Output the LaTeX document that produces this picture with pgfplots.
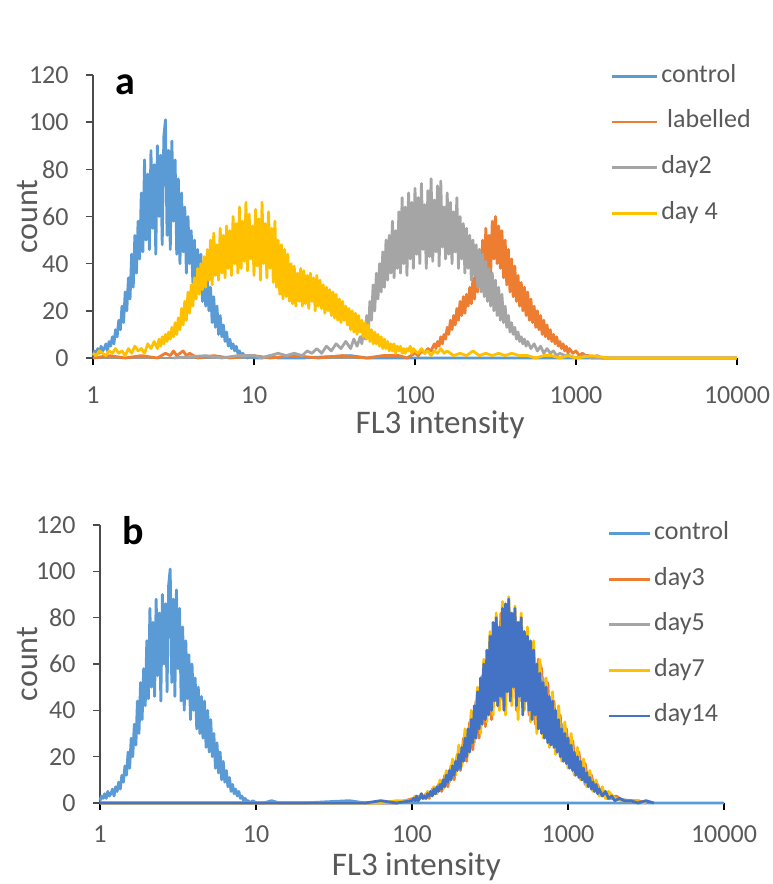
\documentclass[border=0pt]{standalone}
\usepackage{fontspec}
\setmainfont{Carlito}
\usepackage{pgfplots}
\usepackage{pgfplotstable}
\pgfplotsset{compat=1.18}
\definecolor{cBlue}{HTML}{5B9BD5}
\definecolor{cOrange}{HTML}{ED7D31}
\definecolor{cGray}{HTML}{A5A5A5}
\definecolor{cGold}{HTML}{FFC000}
\definecolor{cDark}{HTML}{4472C4}
\definecolor{txt}{HTML}{595959}

% x column = log10(FL3 intensity)
\pgfplotstableread[row sep=\\]{x y\\ 0.00 1\\0.01 3\\0.02 2\\0.03 4\\0.04 2\\0.05 5\\0.06 3\\0.07 4\\0.08 6\\0.09 3\\0.10 7\\0.11 5\\0.12 9\\0.13 6\\0.14 12\\0.15 9\\0.16 16\\0.17 12\\0.18 22\\0.19 15\\0.20 28\\0.21 20\\0.22 34\\0.23 25\\0.24 44\\0.25 30\\0.26 52\\0.27 36\\0.28 58\\0.29 42\\0.30 70\\0.31 45\\0.32 84\\0.33 50\\0.34 78\\0.35 46\\0.36 88\\0.37 55\\0.38 82\\0.39 44\\0.40 90\\0.41 60\\0.42 86\\0.43 48\\0.44 94\\0.45 101\\0.46 52\\0.47 88\\0.48 46\\0.49 92\\0.50 58\\0.51 84\\0.52 44\\0.53 76\\0.54 40\\0.55 70\\0.56 45\\0.57 64\\0.58 36\\0.59 60\\0.60 40\\0.61 54\\0.62 32\\0.63 50\\0.64 30\\0.65 46\\0.66 28\\0.67 44\\0.68 24\\0.69 40\\0.70 22\\0.71 36\\0.72 20\\0.73 30\\0.74 15\\0.75 26\\0.76 13\\0.77 22\\0.78 10\\0.79 18\\0.80 9\\0.81 14\\0.82 7\\0.83 11\\0.84 5\\0.85 8\\0.86 4\\0.87 6\\0.88 3\\0.89 5\\0.90 2\\0.91 3\\0.92 1\\0.93 2\\0.94 1\\0.95 1\\0.96 0\\0.98 1\\1.00 0\\1.05 0\\1.10 1\\1.15 0\\1.30 0\\1.60 1\\1.70 0\\4.00 0\\}\control

\pgfplotstableread[row sep=\\]{x y\\ 0.00 0\\0.10 1\\0.20 0\\0.30 1\\0.40 0\\0.45 2\\0.48 1\\0.50 3\\0.52 1\\0.54 2\\0.56 3\\0.58 1\\0.60 2\\0.65 0\\0.75 1\\0.85 0\\1.00 1\\1.10 0\\1.25 1\\1.40 0\\1.55 1\\1.70 0\\1.80 1\\1.90 1\\1.95 0\\2.00 2\\2.02 1\\2.04 3\\2.06 2\\2.08 4\\2.10 3\\2.12 6\\2.13 4\\2.14 7\\2.15 5\\2.16 9\\2.17 6\\2.18 10\\2.19 8\\2.20 13\\2.21 10\\2.22 16\\2.23 12\\2.24 18\\2.25 14\\2.26 21\\2.27 16\\2.28 24\\2.29 18\\2.30 26\\2.31 19\\2.32 27\\2.33 22\\2.34 30\\2.35 23\\2.36 34\\2.37 25\\2.38 40\\2.39 28\\2.40 46\\2.41 30\\2.42 50\\2.43 34\\2.44 55\\2.45 38\\2.46 52\\2.47 36\\2.48 58\\2.49 42\\2.50 60\\2.51 40\\2.52 56\\2.53 38\\2.54 54\\2.55 34\\2.56 50\\2.57 31\\2.58 46\\2.59 28\\2.60 42\\2.61 26\\2.62 39\\2.63 24\\2.64 35\\2.65 22\\2.66 32\\2.67 20\\2.68 30\\2.69 18\\2.70 28\\2.71 16\\2.72 25\\2.73 15\\2.74 22\\2.75 13\\2.76 20\\2.77 12\\2.78 18\\2.79 10\\2.80 16\\2.81 9\\2.82 14\\2.83 8\\2.84 12\\2.85 7\\2.86 10\\2.87 6\\2.88 9\\2.89 5\\2.90 7\\2.91 4\\2.92 6\\2.93 3\\2.94 5\\2.95 2\\2.96 4\\2.98 2\\3.00 3\\3.02 1\\3.04 2\\3.06 1\\3.08 1\\3.10 0\\3.13 1\\3.16 0\\4.00 0\\}\labelled

\pgfplotstableread[row sep=\\]{x y\\ 0.50 0\\0.70 1\\0.80 0\\0.90 1\\1.00 1\\1.05 0\\1.10 1\\1.15 2\\1.20 1\\1.25 2\\1.30 1\\1.33 3\\1.36 2\\1.39 4\\1.42 2\\1.45 5\\1.48 3\\1.51 6\\1.54 4\\1.57 7\\1.60 4\\1.62 8\\1.64 5\\1.66 9\\1.67 6\\1.68 12\\1.69 8\\1.70 18\\1.71 11\\1.72 24\\1.73 16\\1.74 31\\1.75 20\\1.76 36\\1.77 25\\1.78 40\\1.79 28\\1.80 45\\1.81 30\\1.82 50\\1.83 33\\1.84 52\\1.85 36\\1.86 58\\1.87 34\\1.88 54\\1.89 38\\1.90 62\\1.91 36\\1.92 68\\1.93 40\\1.94 64\\1.95 35\\1.96 70\\1.97 42\\1.98 66\\1.99 38\\2.00 72\\2.01 44\\2.02 68\\2.03 40\\2.04 74\\2.05 46\\2.06 65\\2.07 38\\2.08 71\\2.09 43\\2.10 76\\2.11 41\\2.12 67\\2.13 45\\2.14 73\\2.15 39\\2.16 75\\2.17 47\\2.18 64\\2.19 42\\2.20 70\\2.21 44\\2.22 66\\2.23 40\\2.24 62\\2.25 45\\2.26 68\\2.27 38\\2.28 60\\2.29 42\\2.30 57\\2.31 36\\2.32 55\\2.33 38\\2.34 52\\2.35 33\\2.36 50\\2.37 35\\2.38 48\\2.39 30\\2.40 46\\2.41 28\\2.42 44\\2.43 26\\2.44 41\\2.45 24\\2.46 38\\2.47 22\\2.48 36\\2.49 20\\2.50 33\\2.51 18\\2.52 30\\2.53 16\\2.54 27\\2.55 15\\2.56 22\\2.57 13\\2.58 18\\2.59 11\\2.60 15\\2.61 10\\2.62 13\\2.63 8\\2.64 11\\2.65 7\\2.66 9\\2.67 6\\2.68 8\\2.69 5\\2.70 7\\2.72 4\\2.74 6\\2.76 3\\2.78 5\\2.80 2\\2.82 4\\2.84 2\\2.86 3\\2.88 1\\2.90 2\\2.93 1\\2.96 1\\3.00 0\\3.05 1\\3.10 0\\4.00 0\\}\daytwo

\pgfplotstableread[row sep=\\]{x y\\ 0.00 2\\0.02 1\\0.04 3\\0.06 2\\0.08 1\\0.10 3\\0.12 2\\0.14 4\\0.16 2\\0.18 3\\0.20 1\\0.22 4\\0.24 2\\0.26 5\\0.28 3\\0.30 4\\0.32 2\\0.34 6\\0.36 4\\0.38 7\\0.40 4\\0.41 8\\0.42 5\\0.43 9\\0.44 6\\0.45 10\\0.46 7\\0.47 11\\0.48 8\\0.49 13\\0.50 9\\0.51 15\\0.52 10\\0.53 17\\0.54 12\\0.55 21\\0.56 14\\0.57 24\\0.58 16\\0.59 28\\0.60 19\\0.61 31\\0.62 22\\0.63 34\\0.64 25\\0.65 38\\0.66 27\\0.67 40\\0.68 29\\0.69 43\\0.70 30\\0.71 46\\0.72 33\\0.73 50\\0.74 31\\0.75 53\\0.76 35\\0.77 48\\0.78 33\\0.79 55\\0.80 36\\0.81 52\\0.82 34\\0.83 56\\0.84 38\\0.85 54\\0.86 35\\0.87 60\\0.88 40\\0.89 57\\0.90 36\\0.91 64\\0.92 38\\0.93 58\\0.94 41\\0.95 66\\0.96 37\\0.97 61\\0.98 42\\0.99 56\\1.00 35\\1.01 63\\1.02 39\\1.03 59\\1.04 33\\1.05 66\\1.06 40\\1.07 57\\1.08 34\\1.09 62\\1.10 38\\1.11 55\\1.12 32\\1.13 58\\1.14 30\\1.15 50\\1.16 27\\1.17 48\\1.18 25\\1.19 46\\1.20 26\\1.21 44\\1.22 24\\1.23 40\\1.24 23\\1.25 39\\1.26 22\\1.27 36\\1.28 24\\1.29 38\\1.30 22\\1.31 37\\1.32 23\\1.33 35\\1.34 21\\1.35 36\\1.36 24\\1.37 34\\1.38 20\\1.39 35\\1.40 22\\1.41 33\\1.42 21\\1.43 31\\1.44 19\\1.45 30\\1.46 20\\1.47 29\\1.48 18\\1.49 28\\1.50 17\\1.51 27\\1.52 16\\1.53 25\\1.54 15\\1.55 24\\1.56 16\\1.57 22\\1.58 14\\1.59 21\\1.60 12\\1.61 20\\1.62 11\\1.63 19\\1.64 10\\1.65 18\\1.66 11\\1.67 16\\1.68 9\\1.69 15\\1.70 8\\1.71 14\\1.72 7\\1.73 12\\1.74 6\\1.75 11\\1.76 6\\1.77 10\\1.78 5\\1.79 9\\1.80 4\\1.81 8\\1.82 4\\1.83 7\\1.84 3\\1.85 6\\1.86 3\\1.87 6\\1.88 2\\1.89 5\\1.90 3\\1.91 5\\1.92 2\\1.93 4\\1.94 2\\1.95 4\\1.96 3\\1.97 5\\1.98 2\\1.99 4\\2.00 3\\2.02 2\\2.04 4\\2.06 2\\2.08 3\\2.10 1\\2.12 3\\2.14 2\\2.16 4\\2.18 2\\2.20 3\\2.24 1\\2.28 2\\2.32 1\\2.36 3\\2.40 1\\2.44 2\\2.48 1\\2.52 2\\2.56 1\\2.60 2\\2.65 1\\2.70 1\\2.75 0\\2.80 1\\2.85 1\\2.90 0\\2.95 1\\3.00 0\\3.10 1\\3.20 0\\4.00 0\\}\dayfour

\pgfplotstableread[row sep=\\]{x y\\ 0.00 0\\1.90 0\\2.01 2\\2.03 1\\2.05 3\\2.07 2\\2.09 4\\2.11 2\\2.13 6\\2.15 4\\2.17 8\\2.19 5\\2.21 12\\2.23 7\\2.25 16\\2.27 10\\2.29 21\\2.31 14\\2.33 28\\2.35 18\\2.37 35\\2.39 23\\2.41 44\\2.43 28\\2.45 55\\2.47 33\\2.49 66\\2.51 36\\2.53 76\\2.55 42\\2.57 82\\2.59 40\\2.61 84\\2.63 46\\2.65 80\\2.67 40\\2.69 78\\2.71 44\\2.73 72\\2.75 38\\2.77 68\\2.79 34\\2.81 62\\2.83 58\\2.85 30\\2.87 52\\2.89 26\\2.91 44\\2.93 22\\2.95 38\\2.97 19\\2.99 32\\3.01 16\\3.03 27\\3.05 13\\3.07 22\\3.09 10\\3.11 17\\3.13 8\\3.15 12\\3.17 6\\3.19 8\\3.21 4\\3.23 5\\3.27 2\\3.31 3\\3.35 1\\3.45 1\\3.50 0\\}\daythree

\pgfplotstableread[row sep=\\]{x y\\ 0.00 0\\1.90 0\\2.00 1\\2.03 2\\2.06 3\\2.09 2\\2.12 5\\2.15 4\\2.18 8\\2.21 9\\2.24 14\\2.27 13\\2.30 22\\2.33 20\\2.36 32\\2.39 28\\2.42 46\\2.45 36\\2.48 62\\2.51 42\\2.54 76\\2.57 45\\2.60 84\\2.63 48\\2.66 80\\2.69 44\\2.72 74\\2.75 40\\2.78 64\\2.81 34\\2.84 54\\2.87 28\\2.90 44\\2.93 22\\2.96 34\\2.99 17\\3.02 26\\3.05 12\\3.08 18\\3.11 8\\3.14 11\\3.17 5\\3.20 6\\3.25 2\\3.30 2\\3.40 1\\3.50 0\\}\dayfive

\pgfplotstableread[row sep=\\]{x y\\ 0.00 0\\1.80 0\\1.90 1\\2.00 1\\2.02 3\\2.04 1\\2.06 4\\2.08 2\\2.10 5\\2.12 3\\2.14 7\\2.16 4\\2.18 10\\2.20 6\\2.22 14\\2.24 9\\2.26 19\\2.28 12\\2.30 25\\2.32 16\\2.34 32\\2.36 21\\2.38 40\\2.40 26\\2.42 50\\2.44 30\\2.46 62\\2.48 35\\2.50 74\\2.52 38\\2.54 82\\2.56 40\\2.58 87\\2.60 38\\2.62 89\\2.64 42\\2.66 85\\2.68 36\\2.70 82\\2.72 40\\2.74 76\\2.76 35\\2.78 70\\2.80 30\\2.82 62\\2.84 28\\2.86 54\\2.88 24\\2.90 48\\2.92 21\\2.94 42\\2.96 18\\2.98 35\\3.00 15\\3.02 30\\3.04 12\\3.06 24\\3.08 10\\3.10 19\\3.12 7\\3.14 14\\3.16 5\\3.18 10\\3.20 3\\3.22 7\\3.24 2\\3.26 5\\3.30 2\\3.35 1\\3.40 1\\3.50 0\\}\dayseven

\pgfplotstableread[row sep=\\]{x y\\ 0.00 0\\1.70 0\\1.80 1\\1.90 0\\2.00 1\\2.01 2\\2.02 1\\2.03 3\\2.04 1\\2.05 2\\2.06 4\\2.07 2\\2.08 3\\2.09 2\\2.10 4\\2.11 3\\2.12 5\\2.13 3\\2.14 6\\2.15 4\\2.16 7\\2.17 5\\2.18 8\\2.19 6\\2.20 10\\2.21 7\\2.22 12\\2.23 9\\2.24 14\\2.25 10\\2.26 16\\2.27 12\\2.28 18\\2.29 14\\2.30 21\\2.31 15\\2.32 24\\2.33 18\\2.34 28\\2.35 20\\2.36 32\\2.37 22\\2.38 36\\2.39 26\\2.40 42\\2.41 28\\2.42 48\\2.43 32\\2.44 54\\2.45 34\\2.46 60\\2.47 36\\2.48 66\\2.49 38\\2.50 72\\2.51 40\\2.52 78\\2.53 44\\2.54 80\\2.55 42\\2.56 76\\2.57 46\\2.58 84\\2.59 40\\2.60 86\\2.61 48\\2.62 88\\2.63 44\\2.64 82\\2.65 50\\2.66 84\\2.67 42\\2.68 78\\2.69 46\\2.70 80\\2.71 38\\2.72 74\\2.73 44\\2.74 72\\2.75 40\\2.76 70\\2.77 36\\2.78 66\\2.79 38\\2.80 60\\2.81 32\\2.82 56\\2.83 30\\2.84 52\\2.85 28\\2.86 50\\2.87 26\\2.88 46\\2.89 25\\2.90 44\\2.91 24\\2.92 40\\2.93 22\\2.94 36\\2.95 20\\2.96 32\\2.97 18\\2.98 30\\2.99 17\\3.00 28\\3.01 15\\3.02 25\\3.03 14\\3.04 22\\3.05 12\\3.06 20\\3.07 11\\3.08 18\\3.09 10\\3.10 15\\3.11 9\\3.12 13\\3.13 7\\3.14 11\\3.15 6\\3.16 9\\3.17 5\\3.18 8\\3.19 4\\3.20 6\\3.22 3\\3.24 5\\3.26 2\\3.28 3\\3.30 1\\3.33 2\\3.36 1\\3.40 1\\3.45 0\\3.50 1\\3.55 0\\}\dayfourteen

\pgfplotsset{
  histo/.style={
    scale only axis, clip=false,
    xmin=0, xmax=4, ymin=0, ymax=120,
    xtick={0,1,2,3,4}, xticklabels={1,10,100,1000,10000},
    ytick={0,20,...,120},
    axis x line=bottom, axis y line=left,
    x axis line style={-, black!40, line width=0.6pt},
    y axis line style={-, black!70, line width=0.8pt},
    tick align=outside, major tick length=3.5pt,
    xtick style={black, line width=0.8pt},
    ytick style={black!70, line width=0.8pt},
    tick label style={font=\fontsize{13}{15}\selectfont, text=txt, inner sep=0pt},
    /pgf/number format/assume math mode=true,
    yticklabel style={anchor=east, xshift=-8.5pt},
    xticklabel style={anchor=north},
    xlabel={FL3 intensity}, ylabel={count},
    xlabel style={font=\fontsize{16.5}{19}\selectfont, text=txt, inner sep=0pt, anchor=north},
    ylabel style={font=\fontsize{16}{19}\selectfont, text=txt, inner sep=0pt, anchor=south},
    legend cell align=left,
    legend style={draw=none, fill=none, inner sep=0pt, font=\fontsize{13}{15}\selectfont, text=txt, row sep=10.8pt, column sep=1.5pt, nodes={inner sep=0pt, text height=9pt, text depth=3pt}},
    every axis plot/.append style={line width=1.4pt, line join=round},
  }
}

\begin{document}
\begin{tikzpicture}
\path[use as bounding box] (0,0) rectangle (386pt,442pt);

\begin{axis}[histo, at={(46.5pt,263pt)}, anchor=south west, width=322pt, height=141.5pt,
  xticklabel style={yshift=-10.5pt},
  xlabel style={at={(axis description cs:0.539,0)}, yshift=-26pt},
  ylabel style={at={(axis description cs:-0.0854,0.5)}},
  legend style={at={(axis description cs:0.803,1.039)}, anchor=north west},
  legend image code/.code={\draw[#1] (0pt,0pt) -- (22.5pt,0pt);}]
\addplot[cBlue] table[x=x,y=y] {\control};
\addplot[cOrange] table[x=x,y=y] {\labelled};
\addplot[cGray] table[x=x,y=y] {\daytwo};
\addplot[cGold] table[x=x,y=y] {\dayfour};
\legend{control,{\ labelled},day2,day 4}
\end{axis}

\begin{axis}[histo, at={(50pt,40.5pt)}, anchor=south west, width=312pt, height=139pt,
  xticklabel style={yshift=-7.5pt},
  xlabel style={at={(axis description cs:0.507,0)}, yshift=-24.5pt},
  ylabel style={at={(axis description cs:-0.0994,0.5)}},
  legend style={at={(axis description cs:0.8125,1.014)}, anchor=north west},
  legend image code/.code={\draw[#1] (0pt,0pt) -- (20.5pt,0pt);}]
\addplot[cBlue] table[x=x,y=y] {\control};
\addplot[cOrange] table[x=x,y=y] {\daythree};
\addplot[cGray] table[x=x,y=y] {\dayfive};
\addplot[cGold] table[x=x,y=y] {\dayseven};
\addplot[cDark] table[x=x,y=y] {\dayfourteen};
\legend{control,day3,day5,day7,day14}
\end{axis}

\node[anchor=base west, inner sep=0pt, font=\fontsize{20}{24}\selectfont\bfseries] at (57.5pt,394.5pt) {a};
\node[anchor=base west, inner sep=0pt, font=\fontsize{20}{24}\selectfont\bfseries] at (61pt,169.5pt) {b};
\end{tikzpicture}
\end{document}
